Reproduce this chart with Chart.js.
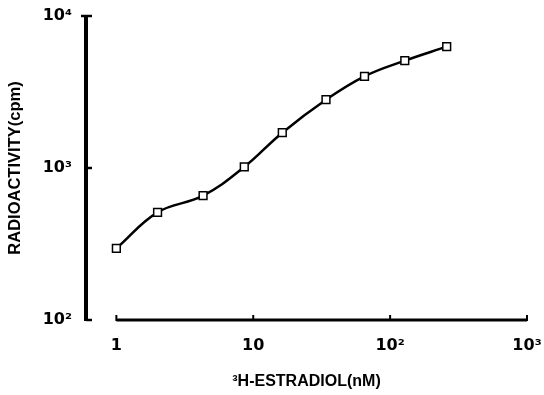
<!DOCTYPE html>
<html>
<head>
<meta charset="utf-8">
<script src="https://cdn.jsdelivr.net/npm/chart.js@4/dist/chart.umd.min.js"></script>
<style>
  html, body { margin: 0; padding: 0; background: #fff; }
  #wrap { width: 544px; height: 395px; }
</style>
</head>
<body>
<div id="wrap"><canvas id="binding-chart" width="544" height="395"></canvas></div>
<script>
// values (log-log)
const concentration = [1, 2, 4.3, 8.6, 16.3, 34, 65, 128, 259];
const radioactivity = [296, 511, 657, 1016, 1708, 2814, 4010, 5083, 6284];

const xTickValues = [1, 10, 100, 1000];
const xTickLabels = ['1', '10', '10²', '10³'];
const yTickValues = [100, 1000, 10000];
const yTickLabels = ['10²', '10³', '10⁴'];

const fontFamily = '"Liberation Sans", Arial, sans-serif'
const tickFamily = '"DejaVu Sans", sans-serif'

// hand-drawn style axes: y line at the left, x line only from 1 to 10^3
const axesPlugin = {
    id: 'axes-lines',
    afterDraw: (chart) => {
        const ctx = chart.ctx;
        const {top, left, bottom} = chart.chartArea;
        const xs = chart.scales.x;
        const ys = chart.scales.y;
        ctx.save();
        ctx.strokeStyle = '#000';
        ctx.lineCap = 'butt';

        // y axis
        ctx.lineWidth = 4;
        ctx.beginPath();
        ctx.moveTo(left, top - 1);
        ctx.lineTo(left, bottom + 1);
        ctx.stroke();
        ctx.lineWidth = 2.5;
        yTickValues.forEach((v, i) => {
            const y = ys.getPixelForValue(v);
            ctx.beginPath();
            // top one is a small T-bar
            ctx.moveTo(i === yTickValues.length - 1 ? left - 5 : left, y);
            ctx.lineTo(left + 6, y);
            ctx.stroke();
        });

        // x axis
        const x0 = xs.getPixelForValue(xTickValues[0]);
        const x1 = xs.getPixelForValue(xTickValues[xTickValues.length - 1]);
        ctx.lineWidth = 3;
        ctx.beginPath();
        ctx.moveTo(x0, bottom);
        ctx.lineTo(x1, bottom);
        ctx.stroke();
        ctx.lineWidth = 2;
        xTickValues.forEach(v => {
            const x = xs.getPixelForValue(v);
            ctx.beginPath();
            ctx.moveTo(x, bottom + 1);
            ctx.lineTo(x, bottom - 5);
            ctx.stroke();
        });
        ctx.restore();
    }
}

new Chart(document.getElementById('binding-chart'), {
    type: 'scatter',
    data: {
        datasets: [{
            data: concentration.map((c, i) => ({x: c, y: radioactivity[i]})),
            showLine: true,
            borderColor: '#000',
            borderWidth: 2.5,
            tension: 0.4,
            pointStyle: 'rect',
            pointRadius: 5.5,
            pointHoverRadius: 5.5,
            pointBorderWidth: 1.5,
            pointBorderColor: '#000',
            pointBackgroundColor: '#fff',
        }]
    },
    options: {
        responsive: false,
        animation: false,
        layout: {padding: {top: 16, right: 17, left: 0, bottom: 0}},
        plugins: {
            legend: {display: false},
            tooltip: {enabled: false}
        },
        scales: {
            x: {
                type: 'logarithmic',
                min: Math.pow(10, -30 / 137),
                max: 1000,
                grid: {display: false},
                border: {display: false},
                afterBuildTicks: (scale) => {
                    scale.ticks = xTickValues.map(v => ({value: v}))
                },
                afterFit: (scale) => {
                    scale.height = 75
                    // let the 10^3 label run off the edge like the original
                    scale.paddingLeft = 0
                    scale.paddingRight = 0
                },
                ticks: {
                    padding: 8,
                    color: '#000',
                    maxRotation: 0,
                    autoSkip: false,
                    font: {family: tickFamily, size: 16, weight: 'bold'},
                    callback: (v) => xTickLabels[xTickValues.indexOf(v)]
                },
                title: {
                    display: true,
                    text: '³H-ESTRADIOL(nM)',
                    color: '#000',
                    font: {family: fontFamily, size: 16, weight: 'bold'},
                    padding: {top: 0, bottom: 4}
                }
            },
            y: {
                type: 'logarithmic',
                min: 100,
                max: 10000,
                grid: {display: false},
                border: {display: false},
                afterBuildTicks: (scale) => {
                    scale.ticks = yTickValues.map(v => ({value: v}))
                },
                afterFit: (scale) => {
                    scale.width = 86
                },
                ticks: {
                    padding: 6,
                    color: '#000',
                    autoSkip: false,
                    font: {family: tickFamily, size: 16, weight: 'bold'},
                    callback: (v) => yTickLabels[yTickValues.indexOf(v)]
                },
                title: {
                    display: true,
                    text: 'RADIOACTIVITY(cpm)',
                    color: '#000',
                    font: {family: fontFamily, size: 16.5, weight: 'bold'},
                    padding: {top: 6, bottom: 0}
                }
            }
        }
    },
    plugins: [axesPlugin]
})
</script>
</body>
</html>
